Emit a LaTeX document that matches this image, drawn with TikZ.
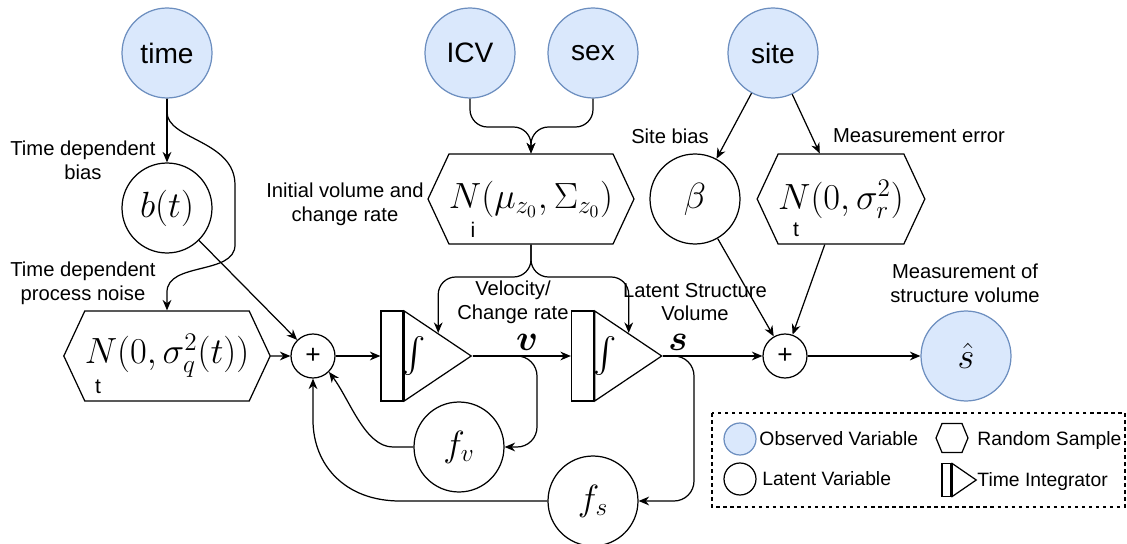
\documentclass[tikz,border=0pt]{standalone}
\usepackage{amsmath}
\usepackage{amssymb}
\usepackage[no-math]{fontspec}
\setmainfont{Liberation Sans}
\usepackage{xcolor}
\usetikzlibrary{shapes.symbols,shapes.geometric,arrows.meta}

\definecolor{obsfill}{HTML}{DAE8FC}
\definecolor{obsdraw}{HTML}{6C8EBF}

\tikzset{
  observed/.style={draw=obsdraw, fill=obsfill, circle, minimum size=1.8cm, inner sep=0pt, font=\fontsize{16}{19}\selectfont},
  latent/.style={draw, circle, minimum size=1.8cm, inner sep=0pt, font=\fontsize{20}{24}\selectfont},
  sample/.style={draw, signal, signal to=east and west, signal pointer angle=130, minimum height=1.8cm, inner sep=0pt, font=\fontsize{20}{24}\selectfont},
  sumnode/.style={draw, circle, minimum size=0.88cm, inner sep=0pt, font=\fontsize{15}{17}\selectfont},
  intbar/.style={draw, rectangle, minimum width=0.44cm, minimum height=1.8cm, inner sep=0pt},
  inttri/.style={draw, isosceles triangle, isosceles triangle stretches, minimum height=1.34cm, minimum width=1.8cm, inner sep=0pt, anchor=west},
  lbl/.style={align=center, font=\fontsize{11.5}{13.6}\selectfont},
  keytext/.style={anchor=west, font=\fontsize{11}{13}\selectfont},
  small/.style={font=\fontsize{12}{14}\selectfont, inner sep=0pt}
}

\begin{document}
\begin{tikzpicture}[x=0.02cm, y=-0.02cm, line width=0.7pt, >={Stealth[length=6pt,width=5pt]}]
  \useasboundingbox (0,0) rectangle (1127,544);

  \node [observed] (time) at (167,53) {time};
  \node [observed] (icv) at (470,53) {ICV};
  \node [observed] (sex) at (593,53) {sex};
  \node [observed] (site) at (773,53) {site};

  \node [latent] (bt) at (167,208) {$b(t)$};
  \node [sample, minimum width=4.02cm] (nq) at (167,356) {$N(0,\sigma_q^2(t))$};
  \node [sample, minimum width=3.6cm] (nmu) at (531,199) {$N(\mu_{z_0},\Sigma_{z_0})$};
  \node [latent] (beta) at (695,199) {$\beta$};
  \node [sample, minimum width=3.18cm] (nr) at (841,199) {$N(0,\sigma_r^2)$};
  \node [small] (nqsub) at (98,387) {t};
  \node [small] (nmusub) at (473,230) {i};
  \node [small] (nrsub) at (796,230) {t};

  \node [sumnode] (sum1) at (313,356) {+};
  \node [intbar] (bar1) at (392,356) {};
  \node [inttri] (int1) at (bar1.east) {};
  \node [font=\fontsize{20}{24}\selectfont, inner sep=0pt] (sym1) at (414,356) {$\int$};
  \node [intbar] (bar2) at (582.5,356) {};
  \node [inttri] (int2) at (bar2.east) {};
  \node [font=\fontsize{20}{24}\selectfont, inner sep=0pt] (sym2) at (605,356) {$\int$};
  \node [sumnode] (sum2) at (785,356) {+};
  \node [observed, font=\fontsize{20}{24}\selectfont] (shat) at (966,356) {$\hat{s}$};

  \node [latent] (fv) at (459,447) {$f_v$};
  \node [latent] (fs) at (593,501) {$f_s$};

  \node [lbl] (lbias) at (83,160) {Time dependent\\bias};
  \node [lbl] (lnoise) at (83,283) {Time dependent\\process noise};
  \node [lbl] (linit) at (345,204) {Initial volume and\\change rate};
  \node [lbl] (lsite) at (670,136) {Site bias};
  \node [lbl] (lmeas) at (919,136) {Measurement error};
  \node [lbl] (lobs) at (965,283) {Measurement of\\structure volume};
  \node [lbl] (lvel) at (513,302) {Velocity/\\Change rate};
  \node [lbl] (llat) at (695,302) {Latent Structure\\Volume};
  \node [font=\fontsize{20}{24}\selectfont] (vlab) at (527,342) {$\boldsymbol{v}$};
  \node [font=\fontsize{20}{24}\selectfont] (slab) at (678,342) {$\boldsymbol{s}$};

  \draw[->] (time) -- (bt);
  \draw[->] (time.south) -- (167,112) .. controls (167,140) and (235,140) .. (235,185) -- (235,245) .. controls (235,275) and (167,262) .. (167,292) -- (nq.north);
  \draw[->] (bt) -- (sum1);
  \draw[->] (nq) -- (sum1);
  \draw[->] (sum1) -- (bar1);
  \draw[->] (int1.apex) -- (bar2);
  \draw[->] (int2.apex) -- (sum2);
  \draw[->] (sum2) -- (shat);
  \draw[->] (site) -- (beta);
  \draw[->] (site) -- (nr);
  \draw[->] (beta) -- (sum2);
  \draw[->] (nr) -- (sum2);

  \draw[->, rounded corners=0.35cm] (icv.south) -- (470,127) -- (531,127) -- (nmu.north);
  \draw[->, rounded corners=0.35cm] (sex.south) -- (593,127) -- (531,127) -- (nmu.north);
  \draw[->, rounded corners=0.35cm] (nmu.south) -- (531,277) -- (int1.left side |- 0,277) -- (int1.left side);
  \draw[->, rounded corners=0.35cm] (nmu.south) -- (531,277) -- (int2.left side |- 0,277) -- (int2.left side);

  \draw[->, rounded corners=0.4cm] (int1.apex) -- (537,356) -- (537,447) -- (fv.east);
  \draw[->, rounded corners=0.4cm] (int2.apex) -- (694,356) -- (694,501) -- (fs.east);
  \draw[->] (fv.west) -- (393,447) .. controls (365,447) and (350,400) .. (sum1.south east);
  \draw[->] (fs.west) -- (400,501) .. controls (345,501) and (313,465) .. (313,420) -- (sum1.south);

  \draw[dash pattern=on 2pt off 2pt, line width=0.6pt] (712,413) rectangle (1125,507);
  \node [observed, minimum size=0.64cm] (kobs) at (740,439) {};
  \node [keytext] (tobs) at (753,439) {Observed Variable};
  \node [latent, minimum size=0.64cm] (klat) at (740,479) {};
  \node [keytext] (tlat) at (756,479) {Latent Variable};
  \node [sample, minimum width=0.64cm, minimum height=0.58cm, signal pointer angle=135] (ksam) at (952,438) {};
  \node [keytext] (tsam) at (971,441) {Random Sample};
  \node [intbar, minimum width=0.18cm, minimum height=0.66cm] (kbar) at (946.5,480) {};
  \node [inttri, minimum height=0.48cm, minimum width=0.66cm] (ktri) at (kbar.east) {};
  \node [keytext] (tint) at (971,482) {Time Integrator};
\end{tikzpicture}
\end{document}
